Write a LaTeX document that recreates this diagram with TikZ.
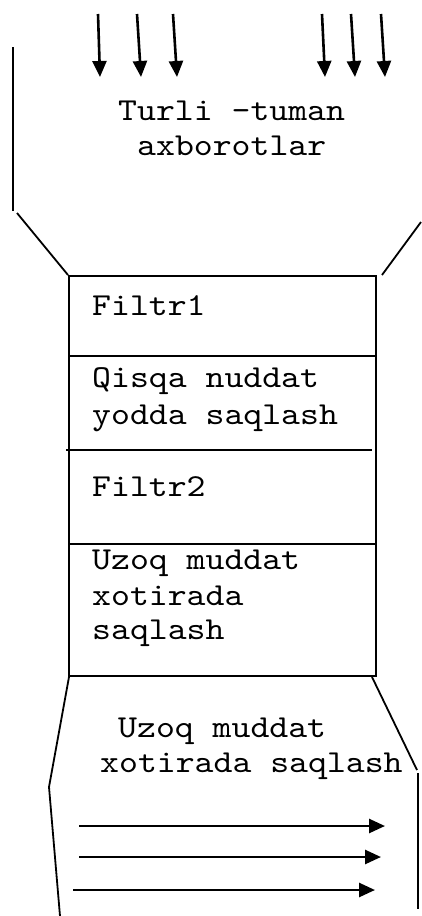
\documentclass[tikz,border=0pt]{standalone}
\usepackage{fontspec}
\newfontfamily\courlike{lmmono10-regular.otf}[FakeStretch=1.125]
\usetikzlibrary{arrows.meta}
\begin{document}
\begin{tikzpicture}[x=1pt,y=-1pt,
  edge/.style={line width=1.8pt},
  flow/.style={line width=2.6pt,-{Triangle[length=16pt,width=14pt]}},
  lbl/.style={anchor=base west,inner sep=0pt,font=\courlike\fontsize{32}{35}\selectfont}]
\useasboundingbox (0,0) rectangle (421,916);
% funnel top
\coordinate (la) at (13,47);
\coordinate (lb) at (13,211);
\coordinate (lc) at (17,213);
\coordinate (ld) at (68,275);
\coordinate (ra) at (421,222);
\coordinate (rb) at (382,275);
\draw[edge] (la) -- (lb);
\draw[edge] (lc) -- (ld);
\draw[edge] (ra) -- (rb);
% box
\coordinate (b1) at (69,276);
\coordinate (b2) at (376,676);
\draw[edge] (b1) rectangle (b2);
\coordinate (d1l) at (69,356); \coordinate (d1r) at (376,356);
\coordinate (d2l) at (66,450); \coordinate (d2r) at (372,450);
\coordinate (d3l) at (69,544); \coordinate (d3r) at (376,544);
\draw[edge] (d1l) -- (d1r);
\draw[edge] (d2l) -- (d2r);
\draw[edge] (d3l) -- (d3r);
% funnel bottom
\coordinate (ba) at (69,677);
\coordinate (bb) at (49,787);
\coordinate (bc) at (60,916);
\coordinate (bd) at (372,677);
\coordinate (be) at (417,770);
\coordinate (bf) at (418,773);
\coordinate (bg) at (418,909);
\draw[edge] (ba) -- (bb) -- (bc);
\draw[edge] (bd) -- (be);
\draw[edge] (bf) -- (bg);
% top arrows
\coordinate (t1s) at (98,14);  \coordinate (t1e) at (100,77);
\coordinate (t2s) at (137,14); \coordinate (t2e) at (141,77);
\coordinate (t3s) at (173,14); \coordinate (t3e) at (177,77);
\coordinate (t4s) at (322,14); \coordinate (t4e) at (325,77);
\coordinate (t5s) at (351,14); \coordinate (t5e) at (355,77);
\coordinate (t6s) at (381,14); \coordinate (t6e) at (385,77);
\foreach \i in {1,...,6} \draw[flow] (t\i s) -- (t\i e);
% bottom arrows
\coordinate (h1s) at (79,826); \coordinate (h1e) at (385,826);
\coordinate (h2s) at (79,857); \coordinate (h2e) at (381,857);
\coordinate (h3s) at (73,890); \coordinate (h3e) at (375,890);
\foreach \i in {1,2,3} \draw[flow] (h\i s) -- (h\i e);
% texts
\node[lbl] (tx1) at (118,120) {Turli –tuman};
\node[lbl] (tx2) at (137,155) {axborotlar};
\node[lbl] (f1) at (92,315) {Filtr1};
\node[lbl] (q1) at (92,387) {Qisqa nuddat};
\node[lbl] (q2) at (92,424) {yodda saqlash};
\node[lbl] (f2) at (92,496) {Filtr2};
\node[lbl] (u1) at (92,569) {Uzoq muddat};
\node[lbl] (u2) at (92,605) {xotirada};
\node[lbl] (u3) at (92,639) {saqlash};
\node[lbl] (w1) at (118,737) {Uzoq muddat};
\node[lbl] (w2) at (100,772) {xotirada saqlash};
\end{tikzpicture}
\end{document}
